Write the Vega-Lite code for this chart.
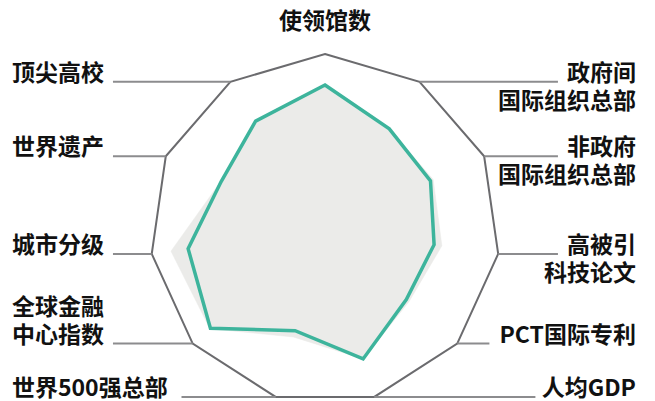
{
  "$schema": "https://vega.github.io/schema/vega-lite/v6.json",
  "width": 655,
  "height": 401,
  "autosize": {"type": "none"},
  "padding": 0,
  "background": "white",
  "config": {"view": {"stroke": null}},
  "data": {
    "values": [
      {"i": 0, "label": "使领馆数", "a": 0.823, "b": 0.823},
      {"i": 1, "label": "政府间\n国际组织总部", "a": 0.68, "b": 0.68},
      {"i": 2, "label": "非政府\n国际组织总部", "a": 0.663, "b": 0.68},
      {"i": 3, "label": "高被引\n科技论文", "a": 0.63, "b": 0.675},
      {"i": 4, "label": "PCT国际专利", "a": 0.615, "b": 0.635},
      {"i": 5, "label": "人均GDP", "a": 0.774, "b": 0.774},
      {"i": 6, "label": "世界500强总部", "a": 0.606, "b": 0.643},
      {"i": 7, "label": "全球金融\n中心指数", "a": 0.866, "b": 0.87},
      {"i": 8, "label": "城市分级", "a": 0.79, "b": 0.889},
      {"i": 9, "label": "世界遗产", "a": 0.652, "b": 0.655},
      {"i": 10, "label": "顶尖高校", "a": 0.733, "b": 0.733}
    ]
  },
  "transform": [
    {"calculate": "datum.i * 2 * PI / 11", "as": "ang"},
    {"calculate": "sin(datum.ang)", "as": "ux"},
    {"calculate": "cos(datum.ang)", "as": "uy"},
    {"calculate": "datum.ux * datum.a", "as": "ax"},
    {"calculate": "datum.uy * datum.a", "as": "ay"},
    {"calculate": "datum.ux * datum.b", "as": "bx"},
    {"calculate": "datum.uy * datum.b", "as": "by"},
    {"calculate": "datum.i == 0 ? 'top' : (datum.i <= 5 ? 'right' : 'left')", "as": "side"},
    {"calculate": "length(split(datum.label, '\\n'))", "as": "nlines"},
    {"calculate": "datum.side == 'left' ? peek(split(datum.label, '\\n')) : split(datum.label, '\\n')[0]", "as": "lead"},
    {"calculate": "length(replace(datum.lead, regexp('[A-Za-z0-9]', 'g'), ''))", "as": "ncjk"},
    {"calculate": "(datum.ncjk + 0.66 * (length(datum.lead) - datum.ncjk)) * 23", "as": "tw"},
    {"calculate": "datum.side == 'right' ? 1.7771 : (datum.side == 'left' ? -1.7886 : 0)", "as": "lx"},
    {"calculate": "datum.side == 'right' ? datum.lx - (datum.tw + 9) / 175 : datum.lx + (datum.tw + 9) / 175", "as": "lend"},
    {"calculate": "datum.side == 'top' ? 1 + 25 / 175 : (datum.side == 'left' ? datum.uy + (datum.nlines - 1) * 28 / 175 : datum.uy)", "as": "ly"}
  ],
  "layer": [
    {
      "mark": {"type": "line", "interpolate": "linear-closed", "fill": "#ebebe9", "stroke": "#ebebe9", "strokeWidth": 0.5},
      "encoding": {
        "x": {"field": "bx", "type": "quantitative", "scale": {"domain": [-1.857, 1.886], "nice": false, "zero": false}, "axis": null},
        "y": {"field": "by", "type": "quantitative", "scale": {"domain": [-0.9829, 1.3086], "nice": false, "zero": false}, "axis": null},
        "order": {"field": "i"}
      }
    },
    {
      "mark": {"type": "line", "interpolate": "linear-closed", "stroke": "#3db49c", "strokeWidth": 3.5, "strokeJoin": "miter"},
      "encoding": {
        "x": {"field": "ax", "type": "quantitative", "scale": {"domain": [-1.857, 1.886], "nice": false, "zero": false}, "axis": null},
        "y": {"field": "ay", "type": "quantitative", "scale": {"domain": [-0.9829, 1.3086], "nice": false, "zero": false}, "axis": null},
        "order": {"field": "i"}
      }
    },
    {
      "mark": {"type": "line", "interpolate": "linear-closed", "stroke": "#6b6b6e", "strokeWidth": 2, "strokeJoin": "miter"},
      "encoding": {
        "x": {"field": "ux", "type": "quantitative", "scale": {"domain": [-1.857, 1.886], "nice": false, "zero": false}, "axis": null},
        "y": {"field": "uy", "type": "quantitative", "scale": {"domain": [-0.9829, 1.3086], "nice": false, "zero": false}, "axis": null},
        "order": {"field": "i"}
      }
    },
    {
      "transform": [{"filter": "datum.side != 'top'"}],
      "mark": {"type": "rule", "stroke": "#8c8c8e", "strokeWidth": 2},
      "encoding": {
        "x": {"field": "ux", "type": "quantitative", "scale": {"domain": [-1.857, 1.886], "nice": false, "zero": false}, "axis": null},
        "x2": {"field": "lend"},
        "y": {"field": "uy", "type": "quantitative", "scale": {"domain": [-0.9829, 1.3086], "nice": false, "zero": false}, "axis": null}
      }
    },
    {
      "transform": [{"filter": "datum.side == 'right'"}],
      "mark": {"type": "text", "align": "right", "baseline": "alphabetic", "dy": -1, "lineBreak": "\n", "lineHeight": 28, "font": "Noto Sans CJK SC", "fontWeight": "bold", "fontSize": 23, "fill": "#111111"},
      "encoding": {
        "x": {"field": "lx", "type": "quantitative", "scale": {"domain": [-1.857, 1.886], "nice": false, "zero": false}, "axis": null},
        "y": {"field": "ly", "type": "quantitative", "scale": {"domain": [-0.9829, 1.3086], "nice": false, "zero": false}, "axis": null},
        "text": {"field": "label"}
      }
    },
    {
      "transform": [{"filter": "datum.side == 'left'"}],
      "mark": {"type": "text", "align": "left", "baseline": "alphabetic", "dy": -1, "lineBreak": "\n", "lineHeight": 28, "font": "Noto Sans CJK SC", "fontWeight": "bold", "fontSize": 23, "fill": "#111111"},
      "encoding": {
        "x": {"field": "lx", "type": "quantitative", "scale": {"domain": [-1.857, 1.886], "nice": false, "zero": false}, "axis": null},
        "y": {"field": "ly", "type": "quantitative", "scale": {"domain": [-0.9829, 1.3086], "nice": false, "zero": false}, "axis": null},
        "text": {"field": "label"}
      }
    },
    {
      "transform": [{"filter": "datum.side == 'top'"}],
      "mark": {"type": "text", "align": "center", "baseline": "alphabetic", "lineBreak": "\n", "font": "Noto Sans CJK SC", "fontWeight": "bold", "fontSize": 23, "fill": "#111111"},
      "encoding": {
        "x": {"field": "lx", "type": "quantitative", "scale": {"domain": [-1.857, 1.886], "nice": false, "zero": false}, "axis": null},
        "y": {"field": "ly", "type": "quantitative", "scale": {"domain": [-0.9829, 1.3086], "nice": false, "zero": false}, "axis": null},
        "text": {"field": "label"}
      }
    }
  ]
}
